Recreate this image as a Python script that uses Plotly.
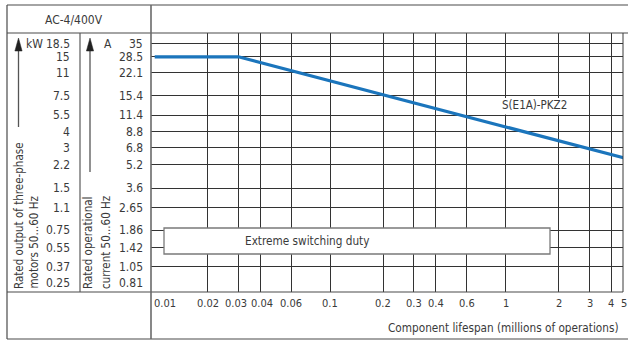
import math
import plotly.graph_objects as go

# ---------------- data ----------------
lifespan = [0.01, 0.03, 5]            # millions of operations
current = [28.5, 28.5, 5.7]           # A
series_name = "S(E1A)-PKZ2"

x_ticks = [0.01, 0.02, 0.03, 0.04, 0.06, 0.1, 0.2, 0.3, 0.4, 0.6, 1, 2, 3, 4, 5]
x_tick_labels = ["0.01", "0.02", "0.03", "0.04", "0.06", "0.1", "0.2", "0.3",
                 "0.4", "0.6", "1", "2", "3", "4", "5"]
current_ticks = [35, 28.5, 22.1, 15.4, 11.4, 8.8, 6.8, 5.2, 3.6, 2.65, 1.86, 1.42, 1.05, 0.81]
current_labels = ["35", "28.5", "22.1", "15.4", "11.4", "8.8", "6.8", "5.2", "3.6",
                  "2.65", "1.86", "1.42", "1.05", "0.81"]
power_labels = ["18.5", "15", "11", "7.5", "5.5", "4", "3", "2.2", "1.5", "1.1",
                "0.75", "0.55", "0.37", "0.25"]

# ---------------- layout geometry (pixels) ----------------
W, H = 628, 341
L, R, T, B = 151, 623, 33, 292   # plot area edges


def px(x):
    return (x - L) / (R - L)


def py(y):
    return (B - y) / (B - T)


FONT = "Liberation Sans Narrow, Arial Narrow, DejaVu Sans Condensed, sans-serif"
TXT = "#3a3a3a"
BLUE = "#1b75bc"
FRAME = "#4a4a4a"

fig = go.Figure()
fig.add_trace(go.Scatter(x=lifespan, y=current, mode="lines", name=series_name,
                         line=dict(color=BLUE, width=3.2), hoverinfo="skip"))

shapes = []


def seg(x0, y0, x1, y1, color=FRAME, width=1.2):
    shapes.append(dict(type="line", xref="paper", yref="paper",
                       x0=px(x0), y0=py(y0), x1=px(x1), y1=py(y1),
                       line=dict(color=color, width=width), layer="above"))


# label boxes (white, above the grid)
shapes.append(dict(type="rect", xref="paper", yref="paper",
                   x0=px(485), x1=px(584), y0=py(98), y1=py(114.5),
                   fillcolor="white", line=dict(width=0), layer="above"))
shapes.append(dict(type="rect", xref="paper", yref="paper",
                   x0=px(164), x1=px(550), y0=py(228), y1=py(254),
                   fillcolor="white", line=dict(color="#7a7a7a", width=1.3), layer="above"))

# frame
seg(7, 5, 628, 5)
seg(7, 33, 628, 33)
seg(7, 292, 623, 292)
seg(7, 339, 628, 339)
seg(7, 5, 7, 339)
seg(151, 5, 151, 339, color="#6a6a6a", width=1.6)
seg(623, 33, 623, 292, color="#3a3a3a", width=1)
seg(80, 33, 80, 292, color="#5a5a5a", width=1.2)

# arrows in the left panel
for ax_x, y_end in [(18.5, 127), (90, 172)]:
    seg(ax_x, 50, ax_x, y_end, color="#555555", width=1.3)
    path = "M {} {} L {} {} L {} {} Z".format(px(ax_x), py(38), px(ax_x - 3.6), py(51),
                                             px(ax_x + 3.6), py(51))
    shapes.append(dict(type="path", xref="paper", yref="paper", path=path,
                       fillcolor="#222222", line=dict(color="#222222", width=0.5),
                       layer="above"))

annotations = []


def ann(text, x, y, size, xref="paper", yref="paper", xanchor="center", yanchor="middle",
        angle=0, xshift=0):
    annotations.append(dict(text=text, x=x, y=y, xref=xref, yref=yref,
                            xanchor=xanchor, yanchor=yanchor, textangle=angle,
                            xshift=xshift, showarrow=False,
                            font=dict(family=FONT, size=size, color=TXT)))


# y labels (current and motor power)
for v, a_lbl, kw_lbl in zip(current_ticks, current_labels, power_labels):
    ann(a_lbl, px(145), math.log10(v), 12, yref="y", xanchor="right")
    ann(kw_lbl, px(72), math.log10(v), 12, yref="y", xanchor="right")
ann("kW", px(24), math.log10(current_ticks[0]), 12, yref="y", xanchor="left")
ann("A", px(107.5), math.log10(current_ticks[0]), 12, yref="y")

# x labels (the tight 0.03 / 0.04 pair is spread slightly, as in the original)
label_shift = {"0.03": -2.5, "0.04": 2}
for i, (v, lbl) in enumerate(zip(x_ticks, x_tick_labels)):
    if i == 0:
        ann(lbl, px(152), py(303), 11, xanchor="left")
    elif i == len(x_ticks) - 1:
        ann(lbl, px(623.5), py(303), 11)
    else:
        ann(lbl, math.log10(v), py(303), 11, xref="x", xshift=label_shift.get(lbl, 0))

ann("Component lifespan (millions of operations)", px(621), py(328), 11.7, xanchor="right")
ann("AC-4/400V", px(74), py(20), 12)
ann("Extreme switching duty", px(307), py(241), 11.7)
ann(series_name, px(534.5), py(104.5), 11.5)

# rotated axis descriptions
ann("Rated output of three-phase", px(18.5), py(291), 11.5, yanchor="bottom", angle=-90)
ann("motors 50...60 Hz", px(33.5), py(291), 11.5, yanchor="bottom", angle=-90)
ann("Rated operational", px(88), py(291), 11.5, yanchor="bottom", angle=-90)
ann("current 50...60 Hz", px(105.5), py(291), 11.5, yanchor="bottom", angle=-90)

fig.update_layout(
    width=W, height=H,
    margin=dict(l=L, r=W - R, t=T, b=H - B, pad=0),
    paper_bgcolor="white", plot_bgcolor="white",
    showlegend=False,
    font=dict(family=FONT, size=12, color=TXT),
    shapes=shapes, annotations=annotations,
    xaxis=dict(type="log", range=[-2.021, 0.668], tickmode="array",
               tickvals=x_ticks[1:-1], showticklabels=False, ticks="",
               showgrid=True, gridcolor="#333333", gridwidth=1,
               zeroline=False, showline=False, fixedrange=True),
    yaxis=dict(type="log", range=[-0.1516, 1.6173], tickmode="array",
               tickvals=current_ticks[:-1], showticklabels=False, ticks="",
               showgrid=True, gridcolor="#333333", gridwidth=1,
               zeroline=False, showline=False, fixedrange=True),
)

fig.write_html("out.html", config={"displayModeBar": False},
               post_script="document.body.style.margin='0px';document.body.style.padding='0px';")
